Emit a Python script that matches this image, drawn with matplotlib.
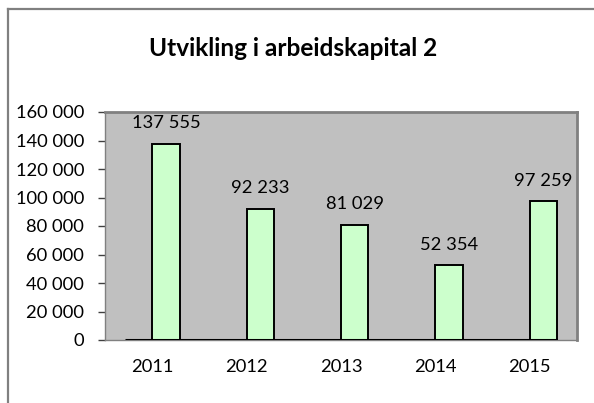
import matplotlib.pyplot as plt
from matplotlib.lines import Line2D
from matplotlib.ticker import FuncFormatter

years = ["2011", "2012", "2013", "2014", "2015"]
values = [137555, 92233, 81029, 52354, 97259]
labels = ["137 555", "92 233", "81 029", "52 354", "97 259"]
yticks = [0, 20000, 40000, 60000, 80000, 100000, 120000, 140000, 160000]

plt.rcParams['font.family'] = ['Lato', 'DejaVu Sans']

W, H = 594, 403
fig = plt.figure(figsize=(W / 100, H / 100), dpi=100)

# outer frame (left and top visible)
fig.add_artist(Line2D([8 / W, 8 / W], [0, 1 - 9 / H], transform=fig.transFigure, color='#808080', lw=1.6))
fig.add_artist(Line2D([8 / W, 1], [1 - 9 / H, 1 - 9 / H], transform=fig.transFigure, color='#808080', lw=1.6))

left, right, top, bottom = 105, 577, 112, 340
ax = fig.add_axes([left / W, 1 - bottom / H, (right - left) / W, (bottom - top) / H])
ax.set_facecolor('#C0C0C0')

x = list(range(len(years)))
bw = 0.29
ax.bar([i + bw / 2 for i in x], values, width=bw, color='#CCFFCC', edgecolor='black', linewidth=1.4, zorder=3)
ax.hlines(0, -bw, len(years) - 1 + bw, colors='black', linewidth=2.2, zorder=4)

for i, (v, lab) in enumerate(zip(values, labels)):
    ax.annotate(lab, (i + bw / 2, v), xytext=(0, 9), textcoords='offset points',
                ha='center', va='bottom', fontsize=13.2, color='black')

ax.set_xlim(-0.5, len(years) - 0.5)
ax.set_ylim(0, 160000)
ax.set_xticks(x)
ax.set_xticklabels(years, fontsize=13.2)
ax.set_yticks(yticks)
ax.yaxis.set_major_formatter(FuncFormatter(lambda v, p: f"{int(v):,}".replace(",", " ")))
ax.tick_params(axis='y', labelsize=13.2, length=5, width=1, color='#404040', pad=10)
ax.tick_params(axis='x', length=0, pad=14)

for s in ['left', 'bottom']:
    ax.spines[s].set_color('#808080')
    ax.spines[s].set_linewidth(1)
for s in ['top', 'right']:
    ax.spines[s].set_color('#808080')
    ax.spines[s].set_linewidth(2)

fig.text(293 / W, 1 - 48 / H, "Utvikling i arbeidskapital 2", ha='center', va='center',
         fontsize=17.6, fontweight='bold')

fig.savefig('out.png', dpi=100)
